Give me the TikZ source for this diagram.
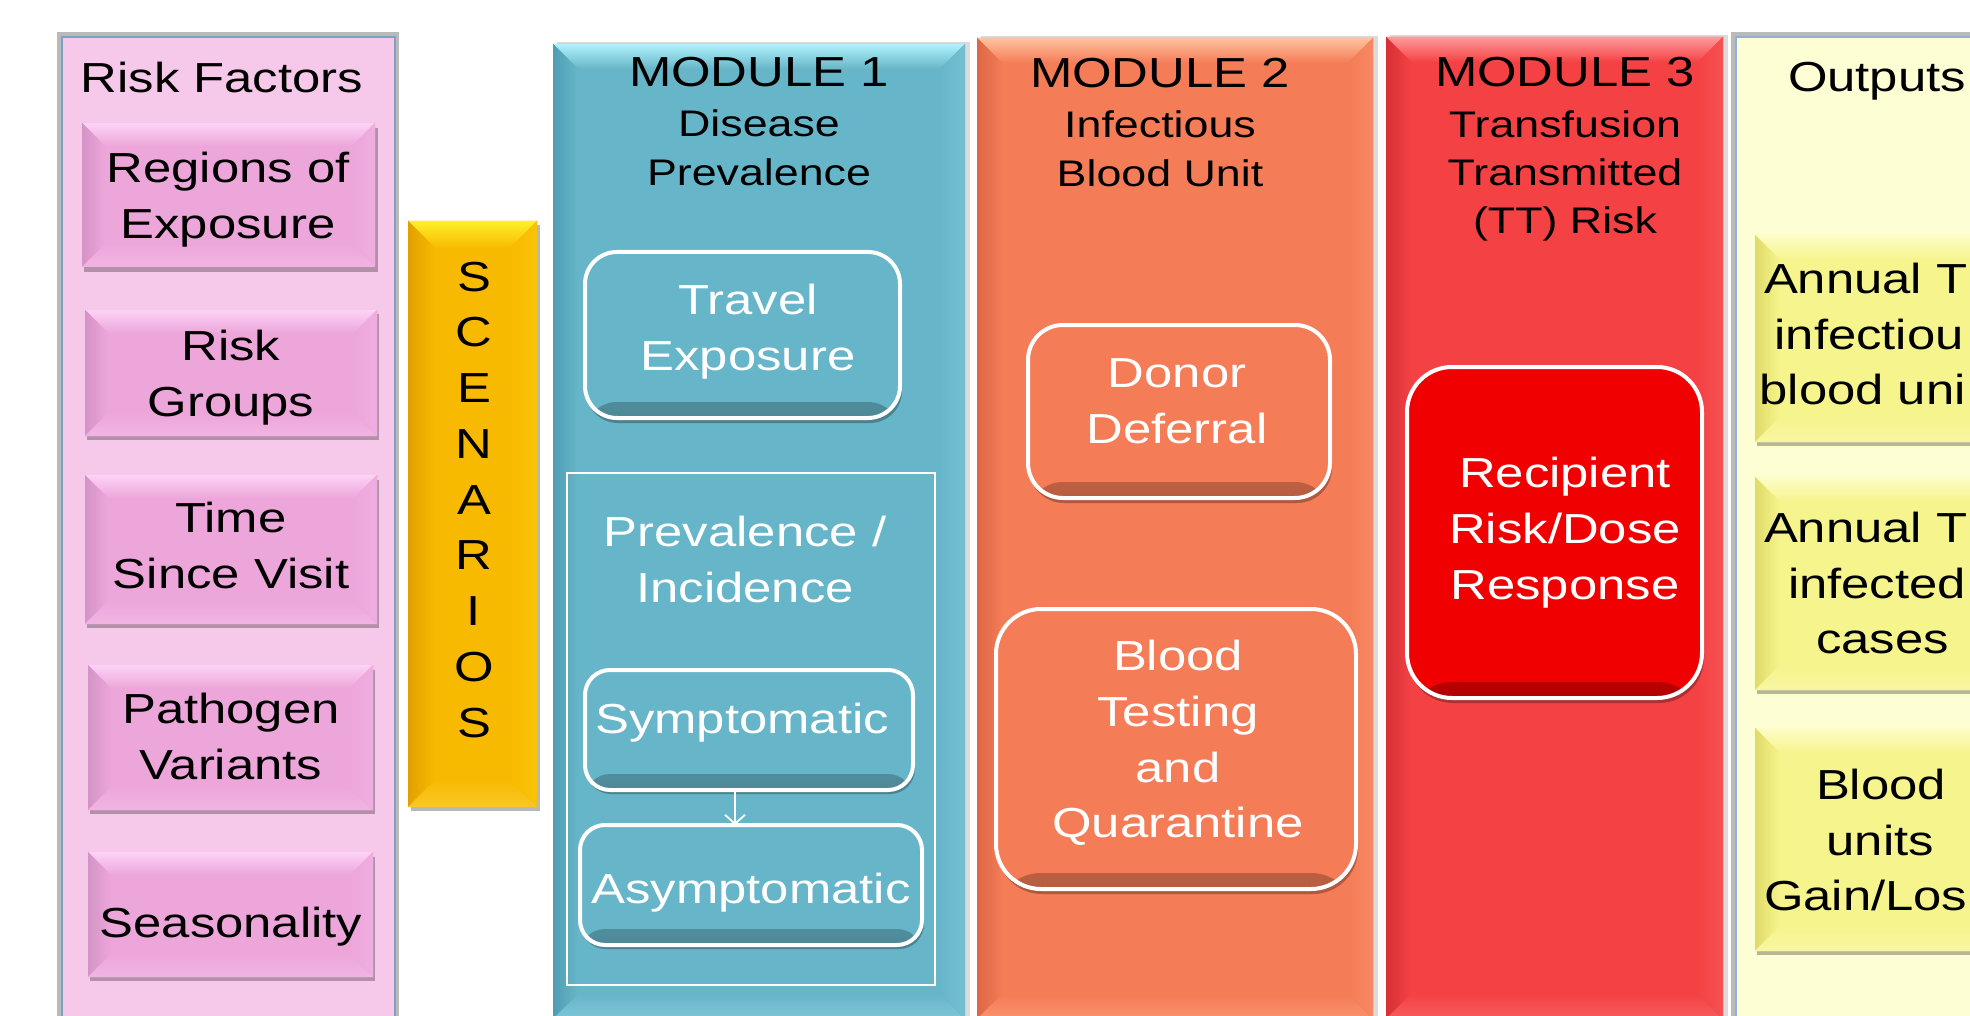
\documentclass[tikz,border=0pt]{standalone}
\usepackage{fontspec}
\setmainfont{Liberation Sans}[FakeStretch=1.21]
\usetikzlibrary{arrows.meta}
\definecolor{riskbg}{HTML}{F6C8E9}
\definecolor{panelb}{HTML}{7DA0C8}
\definecolor{pinkM}{HTML}{EDA6DA}
\definecolor{pinkL}{HTML}{FCD3F7}
\definecolor{pinkD}{HTML}{D493C6}
\definecolor{pinkB}{HTML}{F1B4E2}
\definecolor{scenM}{HTML}{F8BA00}
\definecolor{scenL}{HTML}{FFF02A}
\definecolor{scenD}{HTML}{E2A000}
\definecolor{scenB}{HTML}{FAC628}
\definecolor{mAM}{HTML}{67B5C8}
\definecolor{mAL}{HTML}{AEF2FC}
\definecolor{mAD}{HTML}{4E9EB3}
\definecolor{mAB}{HTML}{7FC6D8}
\definecolor{mBM}{HTML}{F47C56}
\definecolor{mBL}{HTML}{FFC3A0}
\definecolor{mBD}{HTML}{DC6646}
\definecolor{mBB}{HTML}{F8936F}
\definecolor{mCM}{HTML}{F44244}
\definecolor{mCL}{HTML}{FF9A9A}
\definecolor{mCD}{HTML}{D63034}
\definecolor{mCB}{HTML}{F65C5E}
\definecolor{recipM}{HTML}{F00000}
\definecolor{outbg}{HTML}{FEFED4}
\definecolor{outb}{HTML}{8FB0D8}
\definecolor{yelM}{HTML}{F6F48C}
\definecolor{yelL}{HTML}{FDFDC8}
\definecolor{yelD}{HTML}{E0DB68}
\definecolor{yelB}{HTML}{F8F6A2}
\newcommand\bigf{\fontsize{42pt}{55.7pt}\selectfont}
\newcommand\scenf{\fontsize{42pt}{55.75pt}\selectfont}
\newcommand\subf{\fontsize{37pt}{48.25pt}\selectfont}
\newcommand\ts{\rule[-0.25em]{0pt}{1em}}
\tikzset{
  box/.style={rectangle, inner sep=0pt, outer sep=0pt, anchor=north west},
  bevel/.style n args={5}{box, fill=#1, path picture={
    \path (path picture bounding box.north west) coordinate (bvA)
          (path picture bounding box.north east) coordinate (bvB)
          (path picture bounding box.south east) coordinate (bvC)
          (path picture bounding box.south west) coordinate (bvD);
    \fill[top color=#2, bottom color=#1] (bvA) -- (bvB) -- ([xshift=-#5,yshift=-#5]bvB) -- ([xshift=#5,yshift=-#5]bvA) -- cycle;
    \fill[left color=#3, right color=#1] (bvA) -- ([xshift=#5,yshift=-#5]bvA) -- ([xshift=#5,yshift=#5]bvD) -- (bvD) -- cycle;
    \fill[top color=#1, bottom color=#4] (bvD) -- ([xshift=#5,yshift=#5]bvD) -- ([xshift=-#5,yshift=#5]bvC) -- (bvC) -- cycle;
    \fill[left color=#1, right color=#2!18!#1] (bvB) -- (bvC) -- ([xshift=-#5,yshift=#5]bvC) -- ([xshift=-#5,yshift=-#5]bvB) -- cycle;
  }},
  wbox/.style n args={2}{box, draw=white, line width=4pt, rounded corners=#1, fill=#2,
    path picture={\fill[top color=#2, bottom color=#2!75!black]
      ([yshift=16pt]path picture bounding box.south west) rectangle (path picture bounding box.south east);}},
  lbl/.style={inner sep=0pt, outer sep=0pt, align=center, font=\bigf, text=black},
  wlbl/.style={lbl, text=white},
  sublbl/.style={lbl, font=\subf},
  shd/.style={black, opacity=0.28},
}
\begin{document}
\begin{tikzpicture}[x=1pt, y=-1pt]
\useasboundingbox (0,0) rectangle (1970,1016);
\clip (0,0) rectangle (1970,1016);
\fill[white] (0,0) rectangle (1970,1016);

% ---------- Risk factors panel ----------
\fill[black!60, opacity=0.45] (57,32) rectangle (399,1030);
\node[box, fill=riskbg, draw=panelb, line width=2.5pt, minimum width=333pt, minimum height=995pt] (riskpanel) at (62,37) {};
\node[lbl, anchor=base] (rftitle) at (222,92.5) {Risk Factors};

\fill[shd] (84,128) rectangle (378,272);
\node[bevel={pinkM}{pinkL}{pinkD}{pinkB}{23pt}, minimum width=293pt, minimum height=144pt] (regions) at (82,123) {};
\fill[shd] (87,314) rectangle (379,440);
\node[bevel={pinkM}{pinkL}{pinkD}{pinkB}{23pt}, minimum width=292pt, minimum height=126pt] (riskgroups) at (85,310) {};
\fill[shd] (87,480) rectangle (379,628);
\node[bevel={pinkM}{pinkL}{pinkD}{pinkB}{23pt}, minimum width=292pt, minimum height=149pt] (timesince) at (85,475) {};
\fill[shd] (90,670) rectangle (375,814);
\node[bevel={pinkM}{pinkL}{pinkD}{pinkB}{23pt}, minimum width=285pt, minimum height=145pt] (pathogen) at (88,665) {};
\fill[shd] (90,857) rectangle (375,981);
\node[bevel={pinkM}{pinkL}{pinkD}{pinkB}{23pt}, minimum width=285pt, minimum height=125pt] (season) at (88,852) {};

\node[lbl] (tregions) at (228,199.8) {\ts Regions of\\\ts Exposure};
\node[lbl] (trisk) at (231,378.3) {\ts Risk\\\ts Groups};
\node[lbl] (ttime) at (231,549.8) {\ts Time\\\ts Since Visit};
\node[lbl] (tpath) at (231,741.3) {\ts Pathogen\\\ts Variants};
\node[lbl, anchor=base] (tseason) at (231,937) {Seasonality};

% ---------- Scenarios ----------
\fill[shd] (411,225) rectangle (540,811);
\node[bevel={scenM}{scenL}{scenD}{scenB}{27pt}, minimum width=129pt, minimum height=586pt] (scen) at (408,221) {};
\node[lbl, font=\scenf] (tscen) at (474,503.5) {\ts S\\\ts C\\\ts E\\\ts N\\\ts A\\\ts R\\\ts I\\\ts O\\\ts S};

% ---------- Module columns ----------
\fill[black!40, opacity=0.35] (557,42) rectangle (970,1030);
\node[bevel={mAM}{mAL}{mAD}{mAB}{25pt}, minimum width=412pt, minimum height=975pt] (mod1) at (553,44) {};
\fill[black!40, opacity=0.35] (981,36) rectangle (1378,1030);
\node[bevel={mBM}{mBL}{mBD}{mBB}{25pt}, minimum width=396pt, minimum height=981pt] (mod2) at (977,38) {};
\fill[black!40, opacity=0.35] (1390,35) rectangle (1728,1030);
\node[bevel={mCM}{mCL}{mCD}{mCB}{25pt}, minimum width=337pt, minimum height=982pt] (mod3) at (1386,37) {};

% Module 1 content
\node[lbl, anchor=base] (m1title) at (759,86.6) {MODULE 1};
\node[sublbl] (m1sub) at (759,151.75) {\ts Disease\\\ts Prevalence};
\fill[shd, rounded corners=32pt] (586,257) rectangle (902,423);
\node[wbox={32pt}{mAM}, minimum width=315pt, minimum height=166pt] (travel) at (585,252) {};
\node[wlbl] (ttravel) at (748,331.75) {\ts Travel\\\ts Exposure};
\node[box, draw=white, line width=2.5pt, minimum width=368pt, minimum height=512pt] (prevrect) at (567,473) {};
\node[wlbl] (tprev) at (745,564) {\ts Prevalence /\\\ts Incidence};
\fill[shd, rounded corners=25pt] (586,674) rectangle (915,794);
\node[wbox={25pt}{mAM}, minimum width=328pt, minimum height=120pt] (sympt) at (585,670) {};
\node[wlbl, anchor=base] (tsympt) at (742,733.3) {Symptomatic};
\fill[shd, rounded corners=25pt] (581,829) rectangle (924,949);
\node[wbox={25pt}{mAM}, minimum width=342pt, minimum height=120pt] (asympt) at (580,825) {};
\node[wlbl, anchor=base] (tasympt) at (751,903.3) {Asymptomatic};
\draw[white, line width=1.8pt, -{Straight Barb[length=9pt,width=20pt]}] ([xshift=-14pt]sympt.south) -- ([xshift=-16pt]asympt.north);

% Module 2 content
\node[lbl, anchor=base] (m2title) at (1160,87.5) {MODULE 2};
\node[sublbl] (m2sub) at (1160,152.75) {\ts Infectious\\\ts Blood Unit};
\fill[shd, rounded corners=35pt] (1029,330) rectangle (1332,503);
\node[wbox={35pt}{mBM}, minimum width=302pt, minimum height=173pt] (donor) at (1028,325) {};
\node[wlbl] (tdonor) at (1177,405.3) {\ts Donor\\\ts Deferral};
\fill[shd, rounded corners=45pt] (997,614) rectangle (1358,894);
\node[wbox={45pt}{mBM}, minimum width=360pt, minimum height=280pt] (testing) at (996,609) {};
\node[wlbl] (ttesting) at (1178,743.9) {\ts Blood\\\ts Testing\\\ts and\\\ts Quarantine};

% Module 3 content
\node[lbl, anchor=base] (m3title) at (1565,86.6) {MODULE 3};
\node[sublbl] (m3sub) at (1565,176.25) {\ts Transfusion\\\ts Transmitted\\\ts (TT) Risk};
\fill[shd, rounded corners=45pt] (1408,372) rectangle (1704,703);
\node[wbox={45pt}{recipM}, minimum width=295pt, minimum height=331pt] (recip) at (1407,367) {};
\node[wlbl] (trecip) at (1565,532.8) {\ts Recipient\\\ts Risk/Dose\\\ts Response};

% ---------- Outputs panel ----------
\fill[black!60, opacity=0.45] (1731,32) rectangle (2045,1030);
\node[box, fill=outbg, draw=outb, line width=2.5pt, minimum width=310pt, minimum height=995pt] (outpanel) at (1736,37) {};
\node[lbl, anchor=base west] (outtitle) at (1788,91.5) {Outputs};
\fill[shd] (1757,239) rectangle (2017,446);
\node[bevel={yelM}{yelL}{yelD}{yelB}{25pt}, minimum width=260pt, minimum height=207pt] (out1) at (1755,235) {};
\fill[shd] (1757,481) rectangle (2017,694);
\node[bevel={yelM}{yelL}{yelD}{yelB}{25pt}, minimum width=260pt, minimum height=213pt] (out2) at (1755,477) {};
\fill[shd] (1757,732) rectangle (2017,955);
\node[bevel={yelM}{yelL}{yelD}{yelB}{25pt}, minimum width=260pt, minimum height=223pt] (out3) at (1755,728) {};
\node[lbl, align=left, anchor=west] (tout1) at (1759,338.75) {\hspace*{5pt}\ts Annual T\\\hspace*{15.5pt}\ts infectiou\\\hspace*{0.5pt}\ts blood uni};
\node[lbl, align=left, anchor=west] (tout2) at (1759,587.5) {\hspace*{5pt}\ts Annual T\\\hspace*{29pt}\ts infected\\\hspace*{57pt}\ts cases};
\node[lbl, align=left, anchor=west] (tout3) at (1759,844.5) {\hspace*{57pt}\ts Blood\\\hspace*{67.5pt}\ts units\\\hspace*{5pt}\ts Gain/Los};
\end{tikzpicture}
\end{document}
